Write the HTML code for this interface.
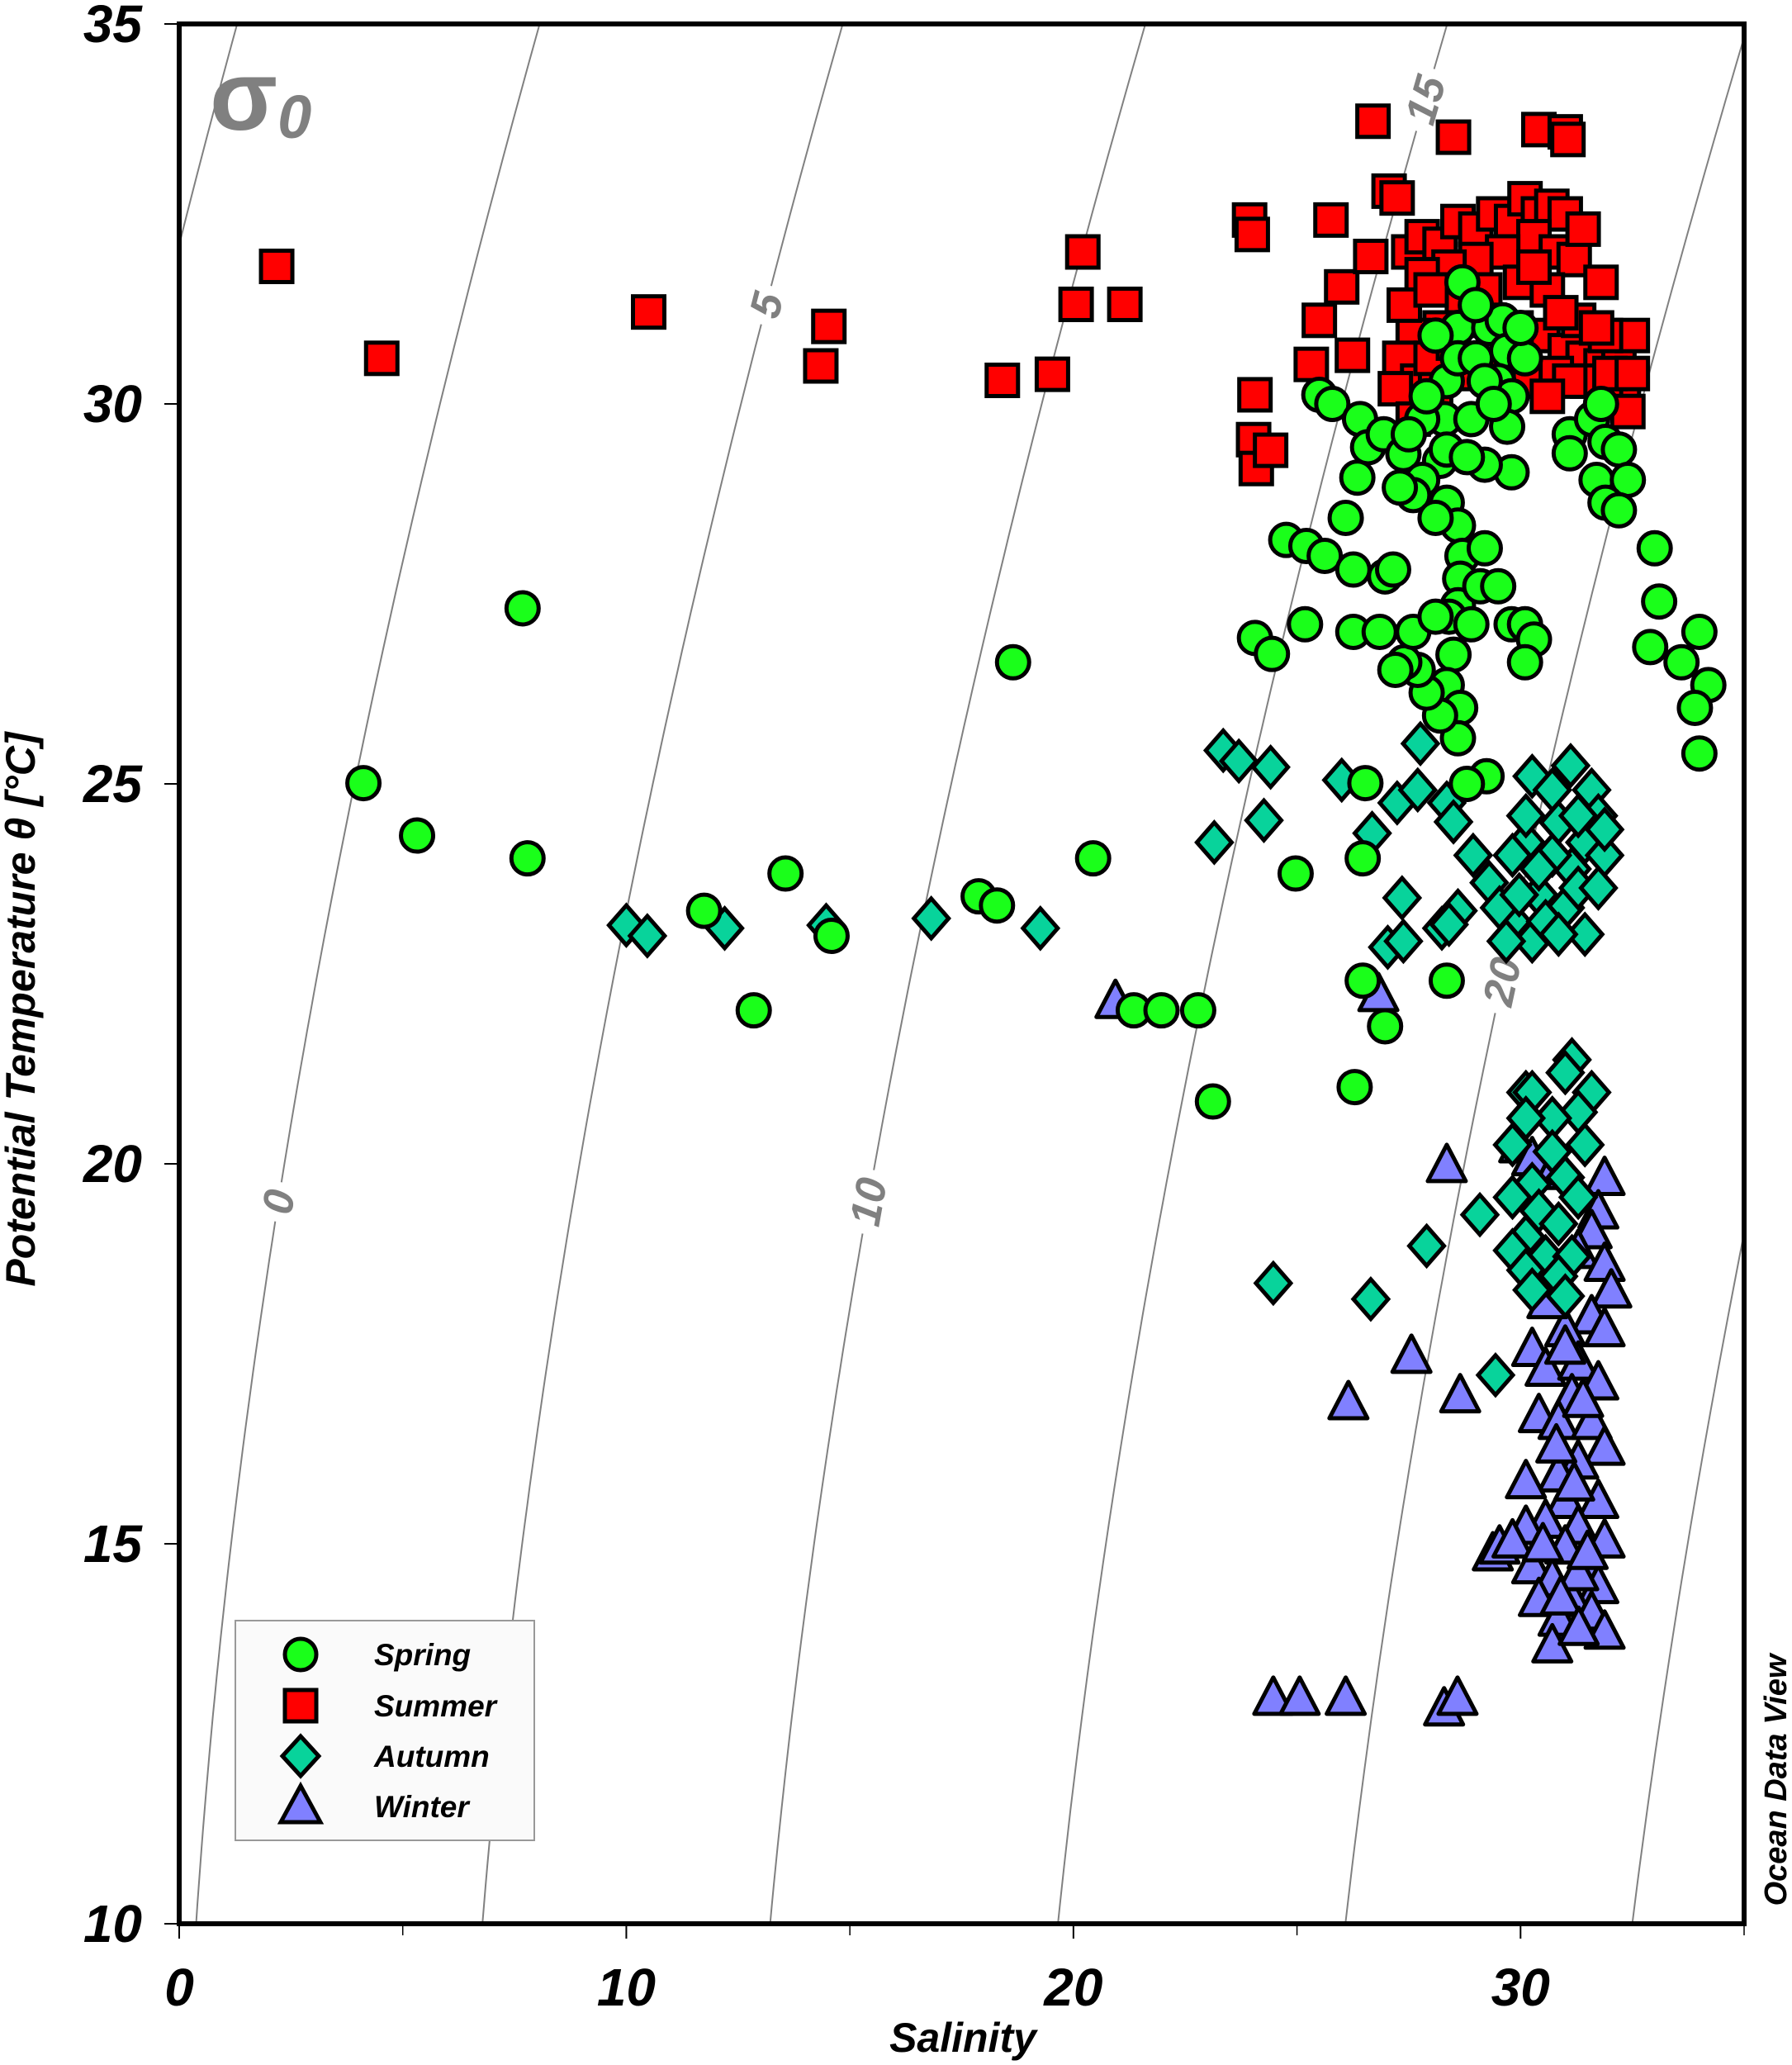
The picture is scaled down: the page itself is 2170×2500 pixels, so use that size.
<!DOCTYPE html>
<html><head><meta charset="utf-8"><style>
html,body{margin:0;padding:0;background:#fff;}
svg{display:block;font-family:"Liberation Sans",sans-serif;}
</style></head><body>
<svg id="chart" width="2170" height="2500" viewBox="0 0 2170 2500" xmlns="http://www.w3.org/2000/svg">
<defs><clipPath id="plotclip"><rect x="217" y="29" width="1895" height="2300"/></clipPath></defs>
<rect x="0" y="0" width="2170" height="2500" fill="#fff"/>
<g id="isolines" clip-path="url(#plotclip)"></g>
<g id="isolabels"></g>
<g id="points" clip-path="url(#plotclip)"></g>
<rect x="217" y="29" width="1895" height="2300" fill="none" stroke="#000" stroke-width="6"/>
<g id="axes"></g>
<text x="254" y="157" font-size="120" font-weight="bold" fill="#808080">σ<tspan font-size="74" font-style="italic" dy="10">0</tspan></text>
<text x="1166" y="2484" text-anchor="middle" font-size="50" font-weight="bold" font-style="italic">Salinity</text>
<text transform="translate(42,1222) rotate(-90)" text-anchor="middle" font-size="50" font-weight="bold" font-style="italic">Potential Temperature θ [°C]</text>
<text transform="translate(2163,2155) rotate(-90)" text-anchor="middle" font-size="38" font-weight="bold" font-style="italic">Ocean Data View</text>
<g>
<rect x="285" y="1962" width="362" height="266" fill="#fafafa" stroke="#999" stroke-width="2"/>
<g><circle cx="364" cy="2003" r="19" fill="#1aff1a" stroke="#000" stroke-width="5"/><text x="453" y="2016" font-size="37" font-weight="bold" font-style="italic">Spring</text></g>
<g><rect x="345" y="2046" width="38" height="38" fill="#ff0000" stroke="#000" stroke-width="5"/><text x="453" y="2078" font-size="37" font-weight="bold" font-style="italic">Summer</text></g>
<g><polygon points="364,2102 386,2126 364,2150 342,2126" fill="#08d39b" stroke="#000" stroke-width="5"/><text x="453" y="2139" font-size="37" font-weight="bold" font-style="italic">Autumn</text></g>
<g><polygon points="364,2162 388,2206 340,2206" fill="#8080ff" stroke="#000" stroke-width="5"/><text x="453" y="2200" font-size="37" font-weight="bold" font-style="italic">Winter</text></g>
</g>
</svg>
<script>
const xTicks = [0,10,20,30];
const xMinorTicks = [5,15,25,35];
const yTicks = [10,15,20,25,30,35];
const sigmaLevels = [-5,0,5,10,15,20,25];
const sigmaLabelLevels = [0,5,10,15,20];
const sigmaLabelTemps = [19.5,31.3,19.5,34.0,22.4];

const summerS = [2.18,4.53,10.5,14.35,14.53,18.41,19.53,20.06,20.21,21.15,23.94,24.0,24.06,24.03,24.09,24.41,25.76,25.5,25.32,26.0,26.24,26.7,26.65,27.06,27.24,28.5,30.41,31.0,31.06,
27.5,27.8,28.2,28.6,29.0,29.4,29.8,30.1,30.4,30.7,31.0,30.3,29.6,29.0,28.4,27.8,30.8,31.2,30.0,30.6,31.8,29.2,28.7,28.2,27.6,27.3,27.7,28.1,28.8,29.6,30.2,30.5,31.0,31.4,31.8,32.2,32.5,31.9,31.3,30.9,32.3,31.9,32.4,31.5,30.8,27.2,27.6,28.0,28.5,29.9,32.0,31.1,30.6,27.4,28.0,29.3,30.3,31.4,31.7,32.5];
const summerT = [31.81,30.6,31.21,30.5,31.02,30.31,30.39,31.31,32.0,31.31,32.42,32.23,30.12,29.53,29.15,29.39,32.42,31.1,30.52,31.54,30.64,33.72,31.94,32.8,32.71,33.51,33.61,33.58,33.48,
32.0,32.2,32.1,32.4,32.3,32.5,32.4,32.7,32.5,32.6,32.5,32.2,32.0,31.9,31.8,31.7,32.0,31.9,31.6,31.5,31.6,31.5,31.3,31.0,30.9,30.6,30.3,30.2,30.4,30.5,30.3,30.9,30.7,30.6,30.5,30.6,30.9,30.9,31.1,31.2,30.2,30.1,29.9,30.3,30.4,30.2,29.8,30.6,30.8,31.0,30.4,30.3,30.1,31.3,31.5,31.1,31.8,32.3,31.0,30.4];

const springS = [7.68,4.12,5.32,7.79,11.74,13.56,14.59,12.85,17.88,18.29,18.65,20.44,21.35,21.97,22.79,23.12,24.97,26.29,26.47,26.97,26.47,26.53,28.35,29.24,28.8,24.06,24.44,25.18,24.76,25.21,25.62,26.26,26.97,27.15,26.26,26.85,26.09,25.5,25.79,26.41,26.35,26.59,26.94,27.38,
28.7,28.6,28.35,28.3,28.2,28.35,28.6,28.7,28.65,28.6,28.4,28.5,28.35,28.65,28.6,28.2,27.9,27.7,27.4,27.2,27.6,28.1,28.9,29.1,29.5,29.2,27.8,27.6,28.1,27.3,
28.1,28.6,29.0,29.3,29.6,29.7,29.5,29.8,29.7,29.2,28.9,30.1,29.8,29.2,28.35,28.8,27.8,27.9,27.5,29.0,30.0,29.4,
31.1,31.1,31.6,31.9,32.2,31.7,32.4,31.9,32.2,31.8,
33.0,33.1,32.9,33.6,34.0,34.2,33.9,34.0,29.8,30.1,30.3,30.1];
const springT = [27.31,25.01,24.32,24.02,23.33,23.82,23.0,22.02,23.52,23.4,26.6,24.02,22.02,22.02,22.02,20.82,23.82,21.01,22.41,21.81,24.02,25.01,22.41,25.1,25.0,26.92,26.71,27.1,28.21,28.13,28.0,27.82,27.73,27.82,27.0,27.0,28.5,30.12,30.0,29.8,29.03,29.43,29.6,29.34,
31.6,31.0,30.3,29.8,29.25,28.7,28.4,28.0,27.7,27.35,27.2,26.7,26.3,26.0,25.6,25.9,26.2,26.5,26.6,26.5,27.0,27.2,27.1,27.6,27.6,28.1,29.0,28.8,28.5,28.9,
30.9,30.6,30.6,31.0,31.1,30.7,30.3,30.1,29.7,30.3,29.8,30.6,29.1,29.2,29.4,29.3,29.8,30.1,29.6,31.3,31.0,30.0,
29.6,29.35,29.8,29.5,29.4,29.0,29.0,28.7,28.6,30.0,
28.1,27.4,26.8,26.6,27.0,26.3,26.0,25.4,27.1,27.1,26.9,26.6];

const autumnS = [10.0,10.47,12.2,14.47,16.82,19.26,23.35,23.7,24.41,23.15,24.26,26.0,26.68,27.24,27.7,28.35,28.5,28.94,27.35,27.03,27.38,28.24,28.6,28.4,29.3,27.76,
30.26,30.71,31.12,31.59,31.74,31.44,31.88,31.15,30.71,30.12,29.82,30.41,31.0,31.44,30.26,29.82,29.53,29.68,30.56,31.29,31.74,30.85,30.12,31.29,31.88,30.41,30.85,29.97,
27.9,29.09,24.47,26.65,29.44,
31.15,31.0,30.12,30.26,31.59,31.29,30.71,30.12,29.82,30.71,31.44,31.0,30.26,29.82,30.41,31.29,30.85,30.12,29.82,30.56,31.15,30.12,30.85,31.0,30.26];
const autumnT = [23.14,23.0,23.1,23.14,23.23,23.1,25.44,25.3,25.22,24.23,24.52,25.05,24.35,24.75,24.92,24.75,24.5,24.06,23.5,22.85,22.93,23.1,23.33,23.15,23.7,25.53,
25.1,24.92,25.24,24.92,24.58,24.23,24.06,23.88,24.06,24.23,24.06,23.54,23.37,23.02,22.93,23.19,23.37,22.93,23.19,23.63,23.63,24.49,24.58,24.58,24.4,23.88,23.02,23.54,
18.92,19.33,18.43,18.22,17.22,
21.37,21.2,20.94,20.94,20.94,20.68,20.6,20.6,20.25,20.16,20.25,19.82,19.73,19.56,19.38,19.56,19.21,19.04,18.86,18.78,18.78,18.6,18.52,18.26,18.34];

const winterS = [20.94,26.82,28.35,27.56,28.65,26.15,24.47,25.06,26.09,28.29,28.59,29.38,29.53,
29.97,30.26,30.71,31.88,31.74,31.59,31.29,31.88,32.03,31.59,31.88,31.0,30.26,30.56,31.29,31.74,31.15,30.41,30.85,31.59,31.88,31.29,30.85,30.12,31.0,31.74,30.56,31.29,30.12,31.88,31.0,30.26,31.44,30.71,31.74,31.15,30.41,31.59,30.85,31.88,30.71,31.29,29.82,
30.6,31.0,31.4,30.8,31.2,30.5,31.5,30.9,31.3,30.7];
const winterT = [22.15,22.24,19.99,17.48,16.96,16.87,12.98,12.98,12.98,12.84,12.98,14.88,14.97,
20.25,20.08,19.9,19.82,19.38,19.12,18.86,18.69,18.34,18.0,17.83,17.83,17.57,17.31,17.39,17.13,16.96,16.7,16.61,16.61,16.27,16.09,15.92,15.83,15.57,15.57,15.31,15.23,15.23,15.05,14.97,14.71,14.71,14.54,14.45,14.28,14.28,14.1,14.02,13.85,13.67,14.62,15.05,
18.2,17.6,16.9,16.3,15.8,15.0,14.9,14.3,13.9,18.5];

const NS = 'http://www.w3.org/2000/svg';
const X0 = 217, X1 = 2112, Y0 = 2329, Y1 = 29;
const xS = s => X0 + s * (X1 - X0) / 35;
const yT = t => Y0 - (t - 10) * (Y0 - Y1) / 25;
function mk(tag, attrs, parent) {
  const el = document.createElementNS(NS, tag);
  for (const k in attrs) el.setAttribute(k, attrs[k]);
  parent.appendChild(el);
  return el;
}
function rho(S, T) {
  const rw = 999.842594 + 6.793952e-2*T - 9.095290e-3*T*T + 1.001685e-4*T**3 - 1.120083e-6*T**4 + 6.536332e-9*T**5;
  const A = 8.24493e-1 - 4.0899e-3*T + 7.6438e-5*T*T - 8.2467e-7*T**3 + 5.3875e-9*T**4;
  const B = -5.72466e-3 + 1.0227e-4*T - 1.6546e-6*T*T;
  return rw + A*S + B*Math.pow(S,1.5) + 4.8314e-4*S*S;
}
function salAt(sig, T) {
  let lo = 0, hi = 60;
  if (rho(0,T) - 1000 > sig) return -(rho(0,T)-1000-sig)/0.8;
  for (let i = 0; i < 60; i++) { const m = (lo+hi)/2; if (rho(m,T)-1000 < sig) lo = m; else hi = m; }
  return (lo+hi)/2;
}
const gl = document.getElementById('isolines');
sigmaLevels.forEach(sig => {
  let d = '';
  for (let t = 9; t <= 36.01; t += 0.25) { d += (d ? 'L' : 'M') + xS(salAt(sig,t)).toFixed(1) + ',' + yT(t).toFixed(1); }
  const p = mk('path', {d: d, fill: 'none', stroke: '#808080', 'stroke-width': 2}, gl);
  
  
});
const glab = document.getElementById('isolabels');
sigmaLabelLevels.forEach((sig, i) => {
  const t = sigmaLabelTemps[i];
  const x = xS(salAt(sig,t)), y = yT(t);
  const x2 = xS(salAt(sig,t+0.5)), y2 = yT(t+0.5);
  const ang = Math.atan2(y2 - y, x2 - x) * 180 / Math.PI;
  const g = mk('g', {transform: 'translate(' + x.toFixed(1) + ',' + y.toFixed(1) + ') rotate(' + ang.toFixed(1) + ')'}, glab);
  
  
  const w = String(sig).length * 30 + 18;
  mk('rect', {x: -w/2, y: -26, width: w, height: 52, fill: '#fff'}, g);
  const tx = mk('text', {x: 0, y: 18, 'text-anchor': 'middle', 'font-size': 52, 'font-weight': 'bold', 'font-style': 'italic', fill: '#808080'}, g);
  tx.textContent = sig;
});
const gp = document.getElementById('points');
function series(Ss, Ts, kind, name) {
  const g = mk('g', {}, gp);
  
  
  Ss.forEach((s, i) => {
    const x = xS(s), y = yT(Ts[i]);
    let el;
    if (kind === 'square') el = mk('rect', {x: x-19, y: y-19, width: 38, height: 38, fill: '#ff0000', stroke: '#000', 'stroke-width': 5}, g);
    else if (kind === 'circle') el = mk('circle', {cx: x, cy: y, r: 19.5, fill: '#1aff1a', stroke: '#000', 'stroke-width': 5}, g);
    else if (kind === 'diamond') el = mk('polygon', {points: x+','+(y-24)+' '+(x+21)+','+y+' '+x+','+(y+24)+' '+(x-21)+','+y, fill: '#08d39b', stroke: '#000', 'stroke-width': 5}, g);
    else el = mk('polygon', {points: x+','+(y-24)+' '+(x+23)+','+(y+20)+' '+(x-23)+','+(y+20), fill: '#8080ff', stroke: '#000', 'stroke-width': 5, 'stroke-linejoin': 'round'}, g);
    
    
  });
}
series(winterS, winterT, 'triangle', 'winter');
series(autumnS, autumnT, 'diamond', 'autumn');
series(summerS, summerT, 'square', 'summer');
series(springS, springT, 'circle', 'spring');

const ga = document.getElementById('axes');
xTicks.forEach(v => {
  const l = mk('line', {x1: xS(v), x2: xS(v), y1: Y0, y2: Y0 + 18, stroke: '#000', 'stroke-width': 2}, ga);
  
  
  const t = mk('text', {x: xS(v), y: 2428, 'text-anchor': 'middle', 'font-size': 64, 'font-weight': 'bold', 'font-style': 'italic'}, ga);
  
  
  t.textContent = v;
});
xMinorTicks.forEach(v => {
  const l = mk('line', {x1: xS(v), x2: xS(v), y1: Y0, y2: Y0 + 14, stroke: '#000', 'stroke-width': 1.5}, ga);
  
  
});
yTicks.forEach(v => {
  const l = mk('line', {x1: X0 - 18, x2: X0, y1: yT(v), y2: yT(v), stroke: '#000', 'stroke-width': 2}, ga);
  
  
  const t = mk('text', {x: 172, y: yT(v) + 22, 'text-anchor': 'end', 'font-size': 64, 'font-weight': 'bold', 'font-style': 'italic'}, ga);
  
  
  t.textContent = v;
});
</script>
</body></html>
